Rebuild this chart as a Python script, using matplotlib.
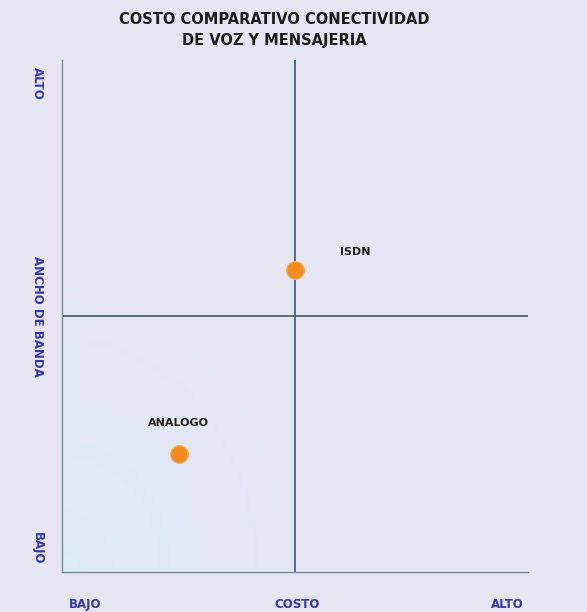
import numpy as np
import matplotlib
matplotlib.use("Agg")
import matplotlib.pyplot as plt

# posiciones en el cuadrante (0..1 en costo y ancho de banda)
tecnologias = ["ISDN", "ANALOGO"]
costo = [0.50, 0.25]
ancho_banda = [0.59, 0.23]

etiquetas_x = ["BAJO", "COSTO", "ALTO"]
etiquetas_y = ["BAJO", "ANCHO DE BANDA", "ALTO"]

fondo = "#e6e6f2"
azul = "#3535b5"
linea = "#4d6670"

fig = plt.figure(figsize=(5.87, 6.12), dpi=100, facecolor=fondo)
ax = fig.add_axes([0.1056, 0.0654, 0.794, 0.8366])
ax.set_facecolor(fondo)
ax.set_xlim(0, 1)
ax.set_ylim(0, 1)

# sombreado azulado en la esquina inferior izquierda
gx, gy = np.meshgrid(np.linspace(0, 1, 200), np.linspace(0, 1, 200))
dist = np.clip(1 - np.sqrt((gx / 0.55) ** 2 + (gy / 0.6) ** 2), 0, 1)
rgba = np.zeros((200, 200, 4))
rgba[..., 0] = 0.86
rgba[..., 1] = 0.92
rgba[..., 2] = 0.97
rgba[..., 3] = dist * 0.8
ax.imshow(rgba, extent=[0, 1, 0, 1], origin="lower", aspect="auto", zorder=0)

# lineas de cuadrante
ax.axvline(0.5, color=linea, lw=1.3, zorder=1)
ax.axhline(0.5, color=linea, lw=1.3, zorder=1)

ax.scatter(costo, ancho_banda, s=160, color="#f08c1e", edgecolor="#f5b060",
           linewidth=1.0, zorder=3)
ax.text(costo[0] + 0.13, ancho_banda[0] + 0.035, tecnologias[0], fontsize=8,
        fontweight="bold", color="#222222", ha="center", va="center")
ax.text(costo[1], ancho_banda[1] + 0.06, tecnologias[1], fontsize=8,
        fontweight="bold", color="#222222", ha="center", va="center")

for s in ["top", "right"]:
    ax.spines[s].set_visible(False)
for s in ["left", "bottom"]:
    ax.spines[s].set_color("#7a9098")
    ax.spines[s].set_linewidth(1.0)

ax.set_xticks([0.05, 0.505, 0.955])
ax.set_xticklabels(etiquetas_x)
ax.set_yticks([0.047, 0.5, 0.955])
ax.set_yticklabels(etiquetas_y, rotation=270, va="center")
ax.tick_params(length=0, labelsize=8.5, labelcolor=azul)
for t in ax.get_xticklabels() + ax.get_yticklabels():
    t.set_fontweight("bold")
ax.tick_params(axis="x", pad=19)
ax.tick_params(axis="y", pad=13)

fig.text(0.467, 0.951, "COSTO COMPARATIVO CONECTIVIDAD\nDE VOZ Y MENSAJERIA",
         ha="center", va="center", fontsize=10.5, fontweight="bold",
         color="#1a1a1a", linespacing=1.45)

fig.savefig("out.png", dpi=100, facecolor=fondo)
